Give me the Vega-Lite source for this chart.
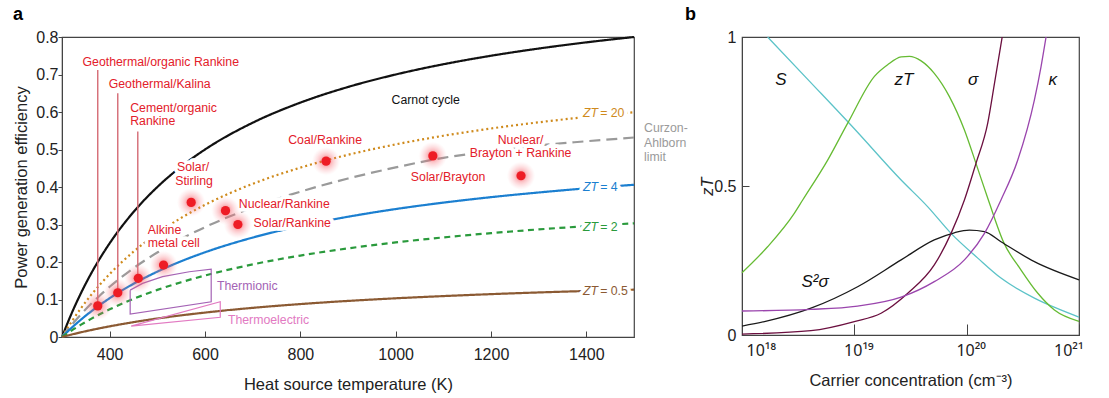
{
  "$schema": "https://vega.github.io/schema/vega-lite/v6.json",
  "background": "white",
  "padding": {"left": 12, "top": 5, "right": 5, "bottom": 5},
  "bounds": "flush",
  "spacing": 108,
  "resolve": {"scale": {"color": "independent", "strokeDash": "independent"}},
  "config": {
    "font": "Liberation Sans",
    "view": {"stroke": "#444", "strokeWidth": 1.2},
    "axis": {"domainColor": "#444", "tickColor": "#444", "labelColor": "#222", "titleColor": "#222", "labelFont": "Liberation Sans", "titleFont": "Liberation Sans", "labelFontSize": 16, "titleFontSize": 16.5, "titleFontWeight": "normal", "grid": false}
  },
  "datasets": {
    "lines": [
      {"series": "Carnot", "T": 300, "eff": 0}, {"series": "Carnot", "T": 320, "eff": 0.0625}, {"series": "Carnot", "T": 340, "eff": 0.1176}, {"series": "Carnot", "T": 360, "eff": 0.1667}, {"series": "Carnot", "T": 380, "eff": 0.2105}, {"series": "Carnot", "T": 400, "eff": 0.25}, {"series": "Carnot", "T": 450, "eff": 0.3333}, {"series": "Carnot", "T": 500, "eff": 0.4}, {"series": "Carnot", "T": 550, "eff": 0.4545}, {"series": "Carnot", "T": 600, "eff": 0.5}, {"series": "Carnot", "T": 700, "eff": 0.5714}, {"series": "Carnot", "T": 800, "eff": 0.625}, {"series": "Carnot", "T": 900, "eff": 0.6667}, {"series": "Carnot", "T": 1000, "eff": 0.7}, {"series": "Carnot", "T": 1100, "eff": 0.7273}, {"series": "Carnot", "T": 1200, "eff": 0.75}, {"series": "Carnot", "T": 1300, "eff": 0.7692}, {"series": "Carnot", "T": 1400, "eff": 0.7857}, {"series": "Carnot", "T": 1500, "eff": 0.8},
      {"series": "ZT20", "T": 300, "eff": 0}, {"series": "ZT20", "T": 320, "eff": 0.0406}, {"series": "ZT20", "T": 340, "eff": 0.0771}, {"series": "ZT20", "T": 360, "eff": 0.1103}, {"series": "ZT20", "T": 380, "eff": 0.1404}, {"series": "ZT20", "T": 400, "eff": 0.168}, {"series": "ZT20", "T": 450, "eff": 0.2275}, {"series": "ZT20", "T": 500, "eff": 0.2765}, {"series": "ZT20", "T": 550, "eff": 0.3176}, {"series": "ZT20", "T": 600, "eff": 0.3524}, {"series": "ZT20", "T": 700, "eff": 0.4085}, {"series": "ZT20", "T": 800, "eff": 0.4516}, {"series": "ZT20", "T": 900, "eff": 0.4859}, {"series": "ZT20", "T": 1000, "eff": 0.5136}, {"series": "ZT20", "T": 1100, "eff": 0.5366}, {"series": "ZT20", "T": 1200, "eff": 0.556}, {"series": "ZT20", "T": 1300, "eff": 0.5725}, {"series": "ZT20", "T": 1400, "eff": 0.5868}, {"series": "ZT20", "T": 1500, "eff": 0.5993},
      {"series": "CA", "T": 300, "eff": 0}, {"series": "CA", "T": 320, "eff": 0.0318}, {"series": "CA", "T": 340, "eff": 0.0607}, {"series": "CA", "T": 360, "eff": 0.0871}, {"series": "CA", "T": 380, "eff": 0.1115}, {"series": "CA", "T": 400, "eff": 0.134}, {"series": "CA", "T": 450, "eff": 0.1835}, {"series": "CA", "T": 500, "eff": 0.2254}, {"series": "CA", "T": 550, "eff": 0.2615}, {"series": "CA", "T": 600, "eff": 0.2929}, {"series": "CA", "T": 700, "eff": 0.3453}, {"series": "CA", "T": 800, "eff": 0.3876}, {"series": "CA", "T": 900, "eff": 0.4226}, {"series": "CA", "T": 1000, "eff": 0.4523}, {"series": "CA", "T": 1100, "eff": 0.4778}, {"series": "CA", "T": 1200, "eff": 0.495}, {"series": "CA", "T": 1300, "eff": 0.511}, {"series": "CA", "T": 1400, "eff": 0.522}, {"series": "CA", "T": 1500, "eff": 0.532},
      {"series": "ZT4", "T": 300, "eff": 0}, {"series": "ZT4", "T": 320, "eff": 0.0243}, {"series": "ZT4", "T": 340, "eff": 0.0466}, {"series": "ZT4", "T": 360, "eff": 0.0671}, {"series": "ZT4", "T": 380, "eff": 0.086}, {"series": "ZT4", "T": 400, "eff": 0.1035}, {"series": "ZT4", "T": 450, "eff": 0.1419}, {"series": "ZT4", "T": 500, "eff": 0.1743}, {"series": "ZT4", "T": 550, "eff": 0.202}, {"series": "ZT4", "T": 600, "eff": 0.2259}, {"series": "ZT4", "T": 700, "eff": 0.2651}, {"series": "ZT4", "T": 800, "eff": 0.2959}, {"series": "ZT4", "T": 900, "eff": 0.3207}, {"series": "ZT4", "T": 1000, "eff": 0.3412}, {"series": "ZT4", "T": 1100, "eff": 0.3583}, {"series": "ZT4", "T": 1200, "eff": 0.3729}, {"series": "ZT4", "T": 1300, "eff": 0.3854}, {"series": "ZT4", "T": 1400, "eff": 0.3964}, {"series": "ZT4", "T": 1500, "eff": 0.4059},
      {"series": "ZT2", "T": 300, "eff": 0}, {"series": "ZT2", "T": 320, "eff": 0.0171}, {"series": "ZT2", "T": 340, "eff": 0.0329}, {"series": "ZT2", "T": 360, "eff": 0.0476}, {"series": "ZT2", "T": 380, "eff": 0.0611}, {"series": "ZT2", "T": 400, "eff": 0.0737}, {"series": "ZT2", "T": 450, "eff": 0.1017}, {"series": "ZT2", "T": 500, "eff": 0.1256}, {"series": "ZT2", "T": 550, "eff": 0.1461}, {"series": "ZT2", "T": 600, "eff": 0.164}, {"series": "ZT2", "T": 700, "eff": 0.1936}, {"series": "ZT2", "T": 800, "eff": 0.2172}, {"series": "ZT2", "T": 900, "eff": 0.2363}, {"series": "ZT2", "T": 1000, "eff": 0.2522}, {"series": "ZT2", "T": 1100, "eff": 0.2656}, {"series": "ZT2", "T": 1200, "eff": 0.277}, {"series": "ZT2", "T": 1300, "eff": 0.2869}, {"series": "ZT2", "T": 1400, "eff": 0.2955}, {"series": "ZT2", "T": 1500, "eff": 0.3031},
      {"series": "ZT05", "T": 300, "eff": 0}, {"series": "ZT05", "T": 320, "eff": 0.0065}, {"series": "ZT05", "T": 340, "eff": 0.0126}, {"series": "ZT05", "T": 360, "eff": 0.0182}, {"series": "ZT05", "T": 380, "eff": 0.0235}, {"series": "ZT05", "T": 400, "eff": 0.0284}, {"series": "ZT05", "T": 450, "eff": 0.0396}, {"series": "ZT05", "T": 500, "eff": 0.0493}, {"series": "ZT05", "T": 550, "eff": 0.0577}, {"series": "ZT05", "T": 600, "eff": 0.0651}, {"series": "ZT05", "T": 700, "eff": 0.0777}, {"series": "ZT05", "T": 800, "eff": 0.0878}, {"series": "ZT05", "T": 900, "eff": 0.0962}, {"series": "ZT05", "T": 1000, "eff": 0.1032}, {"series": "ZT05", "T": 1100, "eff": 0.1091}, {"series": "ZT05", "T": 1200, "eff": 0.1143}, {"series": "ZT05", "T": 1300, "eff": 0.1188}, {"series": "ZT05", "T": 1400, "eff": 0.1227}, {"series": "ZT05", "T": 1500, "eff": 0.1262}
    ],
    "boxes": [
      {"shape": "thermionic", "ord": 1, "T": 443, "eff": 0.125}, {"shape": "thermionic", "ord": 2, "T": 469, "eff": 0.143}, {"shape": "thermionic", "ord": 3, "T": 511, "eff": 0.161}, {"shape": "thermionic", "ord": 4, "T": 567, "eff": 0.174}, {"shape": "thermionic", "ord": 5, "T": 613, "eff": 0.181}, {"shape": "thermionic", "ord": 6, "T": 613, "eff": 0.094}, {"shape": "thermionic", "ord": 7, "T": 443, "eff": 0.061}, {"shape": "thermionic", "ord": 8, "T": 443, "eff": 0.125},
      {"shape": "thermoelectric", "ord": 1, "T": 445, "eff": 0.029}, {"shape": "thermoelectric", "ord": 2, "T": 632, "eff": 0.094}, {"shape": "thermoelectric", "ord": 3, "T": 632, "eff": 0.0525}, {"shape": "thermoelectric", "ord": 4, "T": 445, "eff": 0.029}
    ],
    "leaders": [
      {"T": 375, "eff": 0.712, "eff2": 0.083},
      {"T": 417, "eff": 0.65, "eff2": 0.118},
      {"T": 459, "eff": 0.548, "eff2": 0.157}
    ],
    "dots": [
      {"site": "Geothermal/organic Rankine", "T": 375, "eff": 0.083},
      {"site": "Geothermal/Kalina", "T": 417, "eff": 0.118},
      {"site": "Cement/organic Rankine", "T": 460, "eff": 0.1565},
      {"site": "Alkine metal cell", "T": 513, "eff": 0.192},
      {"site": "Solar/Stirling", "T": 571, "eff": 0.359},
      {"site": "Nuclear/Rankine", "T": 643, "eff": 0.337},
      {"site": "Solar/Rankine", "T": 669, "eff": 0.30},
      {"site": "Coal/Rankine", "T": 854, "eff": 0.469},
      {"site": "Solar/Brayton", "T": 1078, "eff": 0.483},
      {"site": "Nuclear/Brayton + Rankine", "T": 1263, "eff": 0.43}
    ],
    "labelsL": [
      {"label": "Geothermal/organic Rankine", "kind": "site", "T": 343, "eff": 0.734},
      {"label": "Geothermal/Kalina", "kind": "site", "T": 398, "eff": 0.675},
      {"label": "Cement/organic", "kind": "site", "T": 443, "eff": 0.61},
      {"label": "Rankine", "kind": "site", "T": 443, "eff": 0.577},
      {"label": "Alkine", "kind": "site", "T": 480, "eff": 0.285},
      {"label": "metal cell", "kind": "site", "T": 480, "eff": 0.251},
      {"label": "Nuclear/Rankine", "kind": "site", "T": 671, "eff": 0.356},
      {"label": "Solar/Rankine", "kind": "site", "T": 702, "eff": 0.305},
      {"label": "Thermionic", "kind": "thermionic", "T": 625, "eff": 0.136},
      {"label": "Thermoelectric", "kind": "thermoelectric", "T": 648, "eff": 0.045},
      {"label": "Curzon-", "kind": "CA", "T": 1521, "eff": 0.5565},
      {"label": "Ahlborn", "kind": "CA", "T": 1521, "eff": 0.518},
      {"label": "limit", "kind": "CA", "T": 1521, "eff": 0.481},
      {"label": "= 20", "kind": "ZT20", "T": 1429, "eff": 0.598},
      {"label": "= 4", "kind": "ZT4", "T": 1429, "eff": 0.401},
      {"label": "= 2", "kind": "ZT2", "T": 1429, "eff": 0.2925},
      {"label": "= 0.5", "kind": "ZT05", "T": 1429, "eff": 0.1235}
    ],
    "labelsC": [
      {"label": "Solar/", "kind": "site", "T": 575, "eff": 0.454},
      {"label": "Stirling", "kind": "site", "T": 577, "eff": 0.417},
      {"label": "Coal/Rankine", "kind": "site", "T": 852, "eff": 0.525},
      {"label": "Carnot cycle", "kind": "Carnot", "T": 1063, "eff": 0.6325},
      {"label": "Solar/Brayton", "kind": "site", "T": 1110, "eff": 0.427},
      {"label": "Nuclear/", "kind": "site", "T": 1262, "eff": 0.525},
      {"label": "Brayton + Rankine", "kind": "site", "T": 1262, "eff": 0.49}
    ],
    "labelsZT": [
      {"label": "ZT", "kind": "ZT20", "T": 1393, "eff": 0.598},
      {"label": "ZT", "kind": "ZT4", "T": 1393, "eff": 0.401},
      {"label": "ZT", "kind": "ZT2", "T": 1393, "eff": 0.2925},
      {"label": "ZT", "kind": "ZT05", "T": 1393, "eff": 0.1235}
    ],
    "curves": [
      {"quantity": "S", "n": 1.69e18, "value": 1.0}, {"quantity": "S", "n": 3.98e18, "value": 0.852}, {"quantity": "S", "n": 1e19, "value": 0.692}, {"quantity": "S", "n": 2.61e19, "value": 0.52}, {"quantity": "S", "n": 4.51e19, "value": 0.43}, {"quantity": "S", "n": 7.26e19, "value": 0.341}, {"quantity": "S", "n": 1.256e20, "value": 0.258}, {"quantity": "S", "n": 2.02e20, "value": 0.191}, {"quantity": "S", "n": 4.01e20, "value": 0.124}, {"quantity": "S", "n": 6.31e20, "value": 0.09}, {"quantity": "S", "n": 1e21, "value": 0.06},
      {"quantity": "zT", "n": 1e18, "value": 0.209}, {"quantity": "zT", "n": 1.69e18, "value": 0.296}, {"quantity": "zT", "n": 2.92e18, "value": 0.408}, {"quantity": "zT", "n": 3.47e18, "value": 0.453}, {"quantity": "zT", "n": 5.79e18, "value": 0.587}, {"quantity": "zT", "n": 8.73e18, "value": 0.711}, {"quantity": "zT", "n": 1.51e19, "value": 0.868}, {"quantity": "zT", "n": 1.98e19, "value": 0.907}, {"quantity": "zT", "n": 2.61e19, "value": 0.933}, {"quantity": "zT", "n": 3.09e19, "value": 0.935}, {"quantity": "zT", "n": 3.93e19, "value": 0.92}, {"quantity": "zT", "n": 5.15e19, "value": 0.878}, {"quantity": "zT", "n": 7.02e19, "value": 0.8}, {"quantity": "zT", "n": 9.55e19, "value": 0.688}, {"quantity": "zT", "n": 1.21e20, "value": 0.576}, {"quantity": "zT", "n": 1.56e20, "value": 0.453}, {"quantity": "zT", "n": 2.14e20, "value": 0.31}, {"quantity": "zT", "n": 3.05e20, "value": 0.218}, {"quantity": "zT", "n": 4.3e20, "value": 0.14}, {"quantity": "zT", "n": 6.04e20, "value": 0.084}, {"quantity": "zT", "n": 1e21, "value": 0.046},
      {"quantity": "S2sigma", "n": 1e18, "value": 0.03}, {"quantity": "S2sigma", "n": 1.585e18, "value": 0.045}, {"quantity": "S2sigma", "n": 4.11e18, "value": 0.09}, {"quantity": "S2sigma", "n": 1.07e19, "value": 0.162}, {"quantity": "S2sigma", "n": 2.61e19, "value": 0.252}, {"quantity": "S2sigma", "n": 5.15e19, "value": 0.319}, {"quantity": "S2sigma", "n": 7.76e19, "value": 0.343}, {"quantity": "S2sigma", "n": 1.057e20, "value": 0.352}, {"quantity": "S2sigma", "n": 1.44e20, "value": 0.347}, {"quantity": "S2sigma", "n": 2.02e20, "value": 0.313}, {"quantity": "S2sigma", "n": 4.01e20, "value": 0.246}, {"quantity": "S2sigma", "n": 1e21, "value": 0.185},
      {"quantity": "sigma", "n": 1e18, "value": 0.003}, {"quantity": "sigma", "n": 4.11e18, "value": 0.0145}, {"quantity": "sigma", "n": 1e19, "value": 0.045}, {"quantity": "sigma", "n": 1.73e19, "value": 0.073}, {"quantity": "sigma", "n": 2.99e19, "value": 0.14}, {"quantity": "sigma", "n": 5.15e19, "value": 0.235}, {"quantity": "sigma", "n": 7.26e19, "value": 0.341}, {"quantity": "sigma", "n": 9.55e19, "value": 0.453}, {"quantity": "sigma", "n": 1.21e20, "value": 0.576}, {"quantity": "sigma", "n": 1.54e20, "value": 0.711}, {"quantity": "sigma", "n": 1.77e20, "value": 0.845}, {"quantity": "sigma", "n": 2.07e20, "value": 1.0},
      {"quantity": "kappa", "n": 1e18, "value": 0.0805}, {"quantity": "kappa", "n": 4.11e18, "value": 0.086}, {"quantity": "kappa", "n": 1.07e19, "value": 0.097}, {"quantity": "kappa", "n": 2.61e19, "value": 0.127}, {"quantity": "kappa", "n": 5.15e19, "value": 0.179}, {"quantity": "kappa", "n": 9.55e19, "value": 0.252}, {"quantity": "kappa", "n": 1.44e20, "value": 0.341}, {"quantity": "kappa", "n": 2.02e20, "value": 0.453}, {"quantity": "kappa", "n": 2.85e20, "value": 0.587}, {"quantity": "kappa", "n": 4.01e20, "value": 0.789}, {"quantity": "kappa", "n": 4.59e20, "value": 0.9}, {"quantity": "kappa", "n": 5.09e20, "value": 1.0}
    ],
    "blabels": [
      {"label": "S", "n": 2.22e18, "value": 0.856},
      {"label": "zT", "n": 2.77e19, "value": 0.856},
      {"label": "σ", "n": 1.14e20, "value": 0.856},
      {"label": "κ", "n": 5.85e20, "value": 0.856},
      {"label": "S²σ", "n": 4.47e18, "value": 0.179}
    ]
  },
  "hconcat": [
    {
      "width": 572,
      "height": 300,
      "title": {"text": "a", "anchor": "start", "frame": "group", "fontSize": 18, "fontWeight": "bold", "font": "Liberation Sans", "color": "#000", "dx": -49, "offset": 5},
      "encoding": {
        "x": {"field": "T", "type": "quantitative", "scale": {"domain": [300, 1500], "nice": false, "zero": false}, "axis": {"title": "Heat source temperature (K)", "values": [400, 600, 800, 1000, 1200, 1400], "format": "d", "tickSize": -6, "labelPadding": 15, "titlePadding": 14}},
        "y": {"field": "eff", "type": "quantitative", "scale": {"domain": [0, 0.8], "nice": false}, "axis": {"title": "Power generation efficiency", "values": [0, 0.1, 0.2, 0.3, 0.4, 0.5, 0.6, 0.7, 0.8], "format": "~g", "tickSize": 4, "labelPadding": 0, "titlePadding": 6}}
      },
      "layer": [
        {
          "data": {"name": "lines"},
          "mark": {"type": "line", "interpolate": "monotone", "strokeWidth": 2.2, "strokeCap": "butt"},
          "encoding": {
            "color": {"field": "series", "type": "nominal", "legend": null, "scale": {"domain": ["Carnot", "ZT20", "CA", "ZT4", "ZT2", "ZT05", "site", "thermionic", "thermoelectric"], "range": ["#111111", "#cf8a1c", "#9a9a9a", "#1b7fd0", "#2a9a3c", "#8b5a33", "#e3202a", "#a463b5", "#e27ac2"]}},
            "strokeDash": {"field": "series", "type": "nominal", "legend": null, "scale": {"domain": ["Carnot", "ZT20", "CA", "ZT4", "ZT2", "ZT05"], "range": [[1, 0], [2, 3], [11, 6], [1, 0], [6, 4.5], [1, 0]]}}
          }
        },
        {
          "data": {"name": "boxes"},
          "mark": {"type": "line", "strokeWidth": 1.2},
          "encoding": {
            "order": {"field": "ord", "type": "quantitative"},
            "color": {"field": "shape", "type": "nominal", "legend": null, "scale": {"domain": ["Carnot", "ZT20", "CA", "ZT4", "ZT2", "ZT05", "site", "thermionic", "thermoelectric"], "range": ["#111111", "#cf8a1c", "#9a9a9a", "#1b7fd0", "#2a9a3c", "#8b5a33", "#e3202a", "#a463b5", "#e27ac2"]}}
          }
        },
        {
          "data": {"name": "leaders"},
          "mark": {"type": "rule", "color": "#d46a74", "strokeWidth": 1.4},
          "encoding": {"y2": {"field": "eff2"}}
        },
        {
          "data": {"name": "labelsL"},
          "mark": {"type": "text", "align": "left", "baseline": "middle", "fontSize": 12.3, "fill": "white", "stroke": "white", "strokeWidth": 7.5, "strokeJoin": "round"},
          "encoding": {"text": {"field": "label"}}
        },
        {
          "data": {"name": "labelsC"},
          "mark": {"type": "text", "align": "center", "baseline": "middle", "fontSize": 12.3, "fill": "white", "stroke": "white", "strokeWidth": 7.5, "strokeJoin": "round"},
          "encoding": {"text": {"field": "label"}}
        },
        {
          "data": {"name": "labelsZT"},
          "mark": {"type": "text", "align": "left", "baseline": "middle", "fontSize": 12.3, "fontStyle": "italic", "fill": "white", "stroke": "white", "strokeWidth": 7.5, "strokeJoin": "round"},
          "encoding": {"text": {"field": "label"}}
        },
        {
          "data": {"name": "dots"},
          "mark": {"type": "circle", "size": 800, "opacity": 1, "fill": {"gradient": "radial", "x1": 0.5, "y1": 0.5, "r1": 0, "x2": 0.5, "y2": 0.5, "r2": 0.5, "stops": [{"offset": 0, "color": "rgba(240,40,50,0.8)"}, {"offset": 0.45, "color": "rgba(245,90,100,0.35)"}, {"offset": 1, "color": "rgba(250,150,160,0)"}]}}
        },
        {
          "data": {"name": "dots"},
          "mark": {"type": "circle", "size": 85, "opacity": 1, "color": "#ee1c25"}
        },
        {
          "data": {"name": "labelsL"},
          "mark": {"type": "text", "align": "left", "baseline": "middle", "fontSize": 12.3},
          "encoding": {
            "text": {"field": "label"},
            "color": {"field": "kind", "type": "nominal", "legend": null, "scale": {"domain": ["Carnot", "ZT20", "CA", "ZT4", "ZT2", "ZT05", "site", "thermionic", "thermoelectric"], "range": ["#111111", "#cf8a1c", "#9a9a9a", "#1b7fd0", "#2a9a3c", "#8b5a33", "#e3202a", "#a463b5", "#e27ac2"]}}
          }
        },
        {
          "data": {"name": "labelsC"},
          "mark": {"type": "text", "align": "center", "baseline": "middle", "fontSize": 12.3},
          "encoding": {
            "text": {"field": "label"},
            "color": {"field": "kind", "type": "nominal", "legend": null, "scale": {"domain": ["Carnot", "ZT20", "CA", "ZT4", "ZT2", "ZT05", "site", "thermionic", "thermoelectric"], "range": ["#111111", "#cf8a1c", "#9a9a9a", "#1b7fd0", "#2a9a3c", "#8b5a33", "#e3202a", "#a463b5", "#e27ac2"]}}
          }
        },
        {
          "data": {"name": "labelsZT"},
          "mark": {"type": "text", "align": "left", "baseline": "middle", "fontSize": 12.3, "fontStyle": "italic"},
          "encoding": {
            "text": {"field": "label"},
            "color": {"field": "kind", "type": "nominal", "legend": null, "scale": {"domain": ["Carnot", "ZT20", "CA", "ZT4", "ZT2", "ZT05", "site", "thermionic", "thermoelectric"], "range": ["#111111", "#cf8a1c", "#9a9a9a", "#1b7fd0", "#2a9a3c", "#8b5a33", "#e3202a", "#a463b5", "#e27ac2"]}}
          }
        }
      ]
    },
    {
      "width": 337,
      "height": 298,
      "title": {"text": "b", "anchor": "start", "frame": "group", "fontSize": 18, "fontWeight": "bold", "font": "Liberation Sans", "color": "#000", "dx": -57, "offset": 5},
      "encoding": {
        "x": {"field": "n", "type": "quantitative", "scale": {"type": "log", "domain": [1e18, 1e21], "nice": false}, "axis": {"title": "Carrier concentration (cm⁻³)", "values": [1e18, 1e19, 1e20, 1e21], "labelExpr": "datum.value < 5e18 ? '10¹⁸' : datum.value < 5e19 ? '10¹⁹' : datum.value < 5e20 ? '10²⁰' : '10²¹'", "labelFont": "Noto Sans", "labelFontSize": 16, "tickSize": -11, "labelPadding": 18, "labelOffset": 4, "titlePadding": 14}},
        "y": {"field": "value", "type": "quantitative", "scale": {"domain": [0, 1], "nice": false}, "axis": {"title": "zT", "titleFontStyle": "italic", "values": [0, 0.5, 1], "format": "~g", "tickSize": -7, "labelPadding": 13, "titlePadding": -2}}
      },
      "layer": [
        {
          "data": {"name": "curves"},
          "mark": {"type": "line", "interpolate": "monotone", "strokeWidth": 1.3},
          "encoding": {
            "color": {"field": "quantity", "type": "nominal", "legend": null, "scale": {"domain": ["S", "zT", "S2sigma", "sigma", "kappa"], "range": ["#5cc3c8", "#66bb33", "#1a1a1a", "#6b0f3f", "#9a45ad"]}}
          }
        },
        {
          "data": {"name": "blabels"},
          "mark": {"type": "text", "align": "center", "baseline": "middle", "fontSize": 17, "fontStyle": "italic", "color": "#111"},
          "encoding": {"text": {"field": "label"}}
        }
      ]
    }
  ]
}
